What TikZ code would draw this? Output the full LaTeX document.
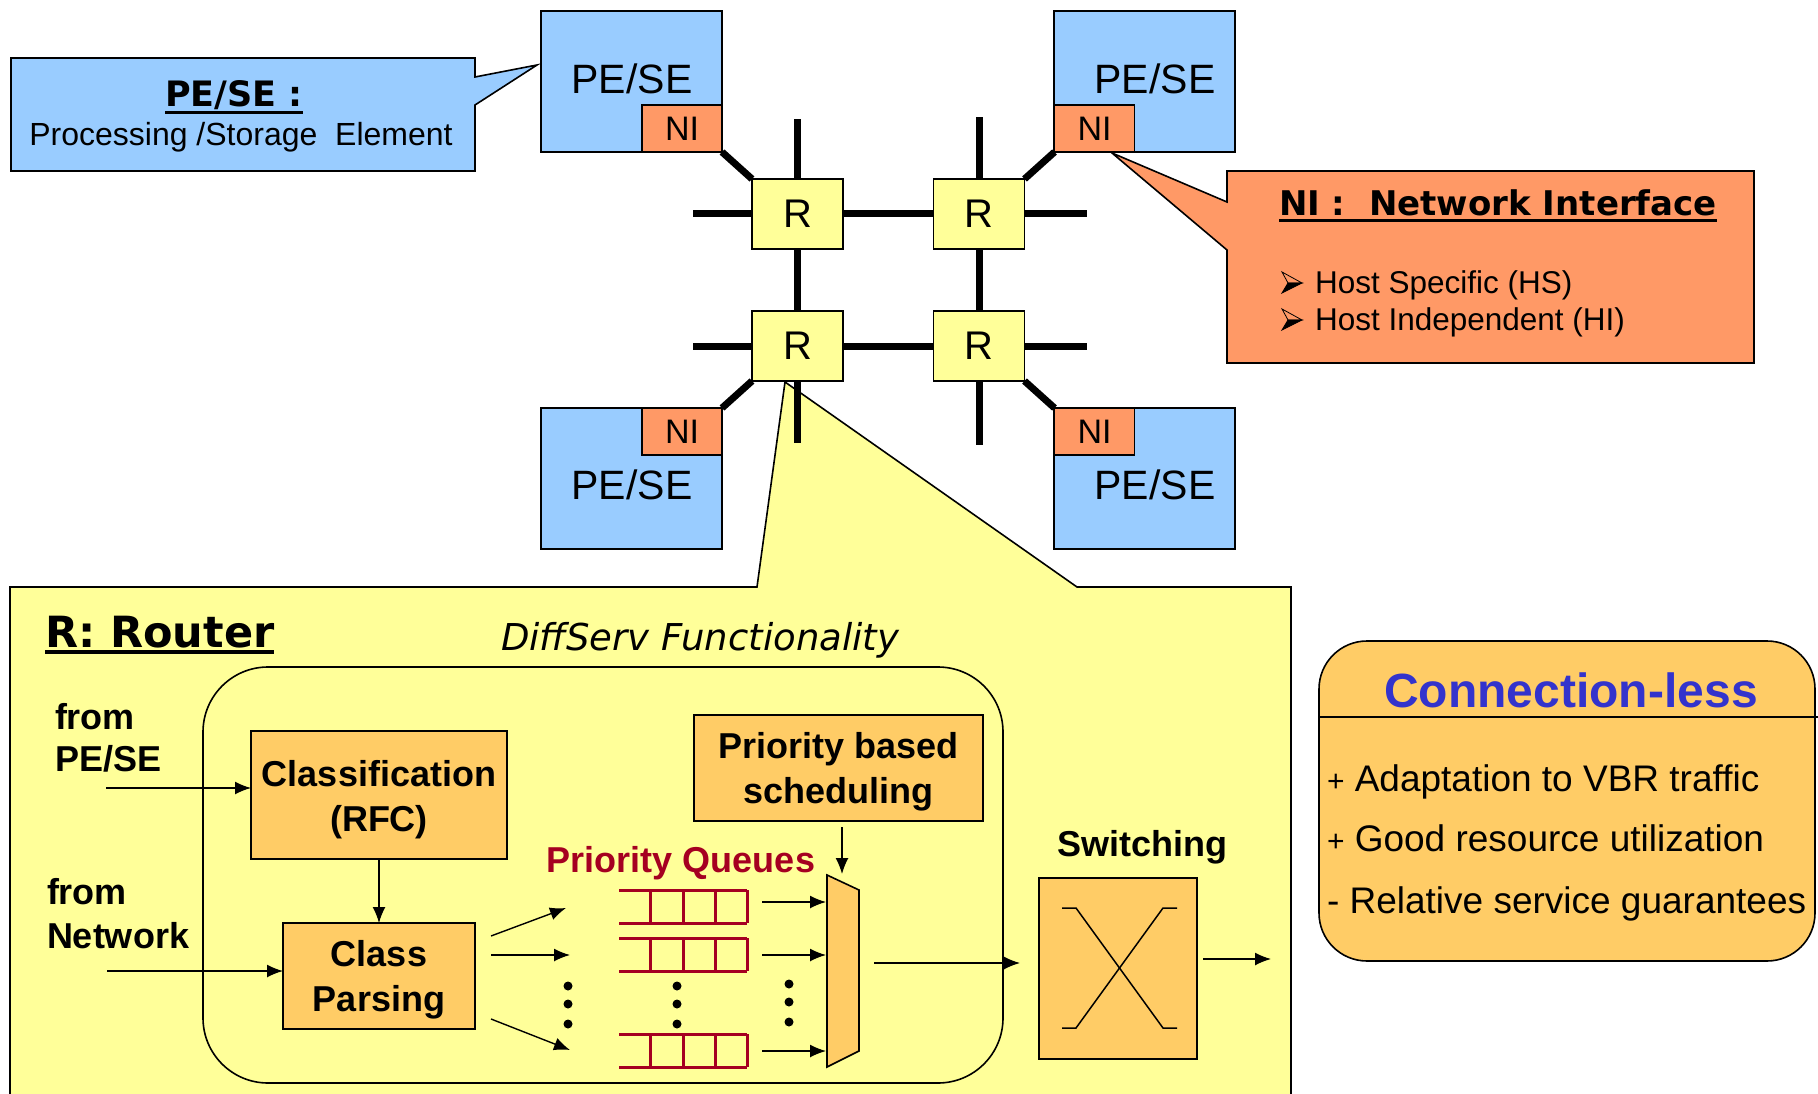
\documentclass[tikz,border=0pt]{standalone}
\usepackage{fontspec}
\setmainfont{Liberation Sans}
\newfontfamily\tahfont{DejaVu Sans}
\usetikzlibrary{arrows.meta,calc,backgrounds}
\definecolor{peblue}{HTML}{99CCFF}
\definecolor{niorange}{HTML}{FF9966}
\definecolor{ryellow}{HTML}{FFFF99}
\definecolor{boxorange}{HTML}{FFCC66}
\definecolor{qred}{HTML}{A50021}
\definecolor{clblue}{HTML}{3333CC}
\newcommand\fsz[2]{\fontsize{#1}{#2}\selectfont}

\begin{document}
\begin{tikzpicture}[x=1pt,y=-1pt,
  every node/.style={inner sep=0pt, outer sep=0pt},
  border/.style={draw=black, line width=1.6pt},
  pebox/.style={border, fill=peblue, minimum width=181pt, minimum height=141pt},
  nibox/.style={border, fill=niorange, minimum width=80pt, minimum height=47pt, font=\fsz{34}{40}},
  rbox/.style={border, fill=ryellow, minimum width=91pt, minimum height=70pt, font=\fsz{40}{48}},
  petext/.style={anchor=base, font=\fsz{41}{48}},
  link/.style={line width=7pt},
  fbox/.style={border, fill=boxorange},
  boxtxt/.style={anchor=base, font=\bfseries\fsz{36}{42}},
  arr/.style={line width=1.4pt, -{Latex[length=16pt,width=13pt]}},
  qline/.style={draw=qred, line width=3pt},
  boldlbl/.style={font=\bfseries\fsz{36}{42}},
  item/.style={anchor=base west, font=\fsz{37}{44}},
  bullet/.style={line width=0.8pt, line join=miter},
]
\useasboundingbox (0,0) rectangle (1818,1094);

% page background and the three callout shapes
\begin{pgfonlayer}{background}
\fill[white] (0,0) rectangle (1818,1094);
\draw[border, fill=peblue] (11,58) -- (475,58) -- (475,77) -- (537,65) -- (475,105) -- (475,171) -- (11,171) -- cycle;
\draw[border, fill=niorange] (1227,171) -- (1754,171) -- (1754,363) -- (1227,363) -- (1227,250) -- (1112,153) -- (1227,202) -- cycle;
\draw[border, fill=ryellow] (10,587) -- (757,587) -- (785,382) -- (1077,587) -- (1291,587) -- (1291,1110) -- (10,1110) -- cycle;
\end{pgfonlayer}

% processing / storage elements
\node[pebox] (pe1) at (631.5,81.5) {};
\node[pebox] (pe2) at (1144.5,81.5) {};
\node[pebox] (pe3) at (631.5,478.5) {};
\node[pebox] (pe4) at (1144.5,478.5) {};
\node[petext] (pe1t) at (632,94) {PE/SE};
\node[petext] (pe2t) at (1155,94) {PE/SE};
\node[petext] (pe3t) at (632,499) {PE/SE};
\node[petext] (pe4t) at (1155,499) {PE/SE};

% network interfaces
\node[nibox] (ni1) at (682,128.5) {NI};
\node[nibox] (ni2) at (1094.5,128.5) {NI};
\node[nibox] (ni3) at (682,431.5) {NI};
\node[nibox] (ni4) at (1094.5,431.5) {NI};

% routers
\node[rbox] (r1) at (797.5,214) {R};
\node[rbox] (r2) at (979,214) {R};
\node[rbox] (r3) at (797.5,346) {R};
\node[rbox] (r4) at (979,346) {R};

% open link ends of the mesh
\coordinate (s1w) at (693,214);
\coordinate (s1n) at (797.5,119);
\coordinate (s2n) at (979,117);
\coordinate (s2e) at (1087,214);
\coordinate (s3w) at (693,346);
\coordinate (s3s) at (797.5,443);
\coordinate (s4e) at (1087,346);
\coordinate (s4s) at (979,445);

\begin{pgfonlayer}{background}
\draw[link] (r1) -- (r2);
\draw[link] (r3) -- (r4);
\draw[link] (r1) -- (r3);
\draw[link] (r2) -- (r4);
\draw[link] (r1.west) -- (s1w);
\draw[link] (r1.north) -- (s1n);
\draw[link] (r2.north) -- (s2n);
\draw[link] (r2.east) -- (s2e);
\draw[link] (r3.west) -- (s3w);
\draw[link] (r3.south) -- (s3s);
\draw[link] (r4.east) -- (s4e);
\draw[link] (r4.south) -- (s4s);
\draw[link] (ni1.south east) -- (r1.north west);
\draw[link] (ni2.south west) -- (r2.north east);
\draw[link] (ni3.north east) -- (r3.south west);
\draw[link] (ni4.north west) -- (r4.south east);
\end{pgfonlayer}

% callout texts
\node[font=\tahfont\bfseries\fsz{35}{42}, anchor=base] (petitle) at (234,107) {PE/SE :};
\draw[line width=3pt] ($(petitle.base west)+(0,6)$) -- ($(petitle.base east)+(0,6)$);
\node[anchor=base, font=\fsz{32}{38}] (pedesc) at (241,146) {Processing /Storage~~Element};

\node[font=\tahfont\bfseries\fsz{34}{40}, anchor=base west] (nititle) at (1279,216) {NI :~~Network Interface};
\draw[line width=3pt] ($(nititle.base west)+(0,5)$) -- ($(nititle.base east)+(0,5)$);
% arrowhead bullets
\foreach \by in {293,330} {
  \draw[bullet, fill=niorange] (1282,\by-21) -- (1302,\by-10) -- (1288,\by-10) -- cycle;
  \draw[bullet, fill=black] (1288,\by-10) -- (1302,\by-10) -- (1282,\by) -- cycle;
}
\node[font=\fsz{31.5}{36}, anchor=base west] (hs) at (1315,293) {Host Specific (HS)};
\node[font=\fsz{31.5}{36}, anchor=base west] (hi) at (1315,330) {Host Independent (HI)};

% router internals
\node[font=\tahfont\bfseries\fsz{43}{50}, anchor=base west] (rtitle) at (45,647) {R: Router};
\draw[line width=4pt] ($(rtitle.base west)+(0,5)$) -- ($(rtitle.base east)+(0,5)$);
\node[font=\tahfont\itshape\fsz{37}{44}, anchor=base west] (diff) at (501,650) {DiffServ Functionality};
\draw[line width=1.6pt, rounded corners=65pt] (203,667) rectangle (1003,1083);

\node[boldlbl, anchor=base west] (from1) at (55,729) {from};
\node[boldlbl, anchor=base west] (from1b) at (55,771) {PE/SE};
\node[boldlbl, anchor=base west] (from2) at (47,904) {from};
\node[boldlbl, anchor=base west] (from2b) at (47,948) {Network};

\node[fbox, minimum width=256pt, minimum height=128pt] (cls) at (379,795) {};
\node[boxtxt] (clsa) at (379,786) {Classification};
\node[boxtxt] (clsb) at (379,831) {(RFC)};
\node[fbox, minimum width=192pt, minimum height=106pt] (cp) at (379,976) {};
\node[boxtxt] (cpa) at (379,966) {Class};
\node[boxtxt] (cpb) at (379,1011) {Parsing};
\node[fbox, minimum width=289pt, minimum height=106pt] (sched) at (838.5,768) {};
\node[boxtxt] (scha) at (838.5,758) {Priority based};
\node[boxtxt] (schb) at (838.5,803) {scheduling};
\node[fbox, minimum width=158pt, minimum height=181pt] (sw) at (1118,968.5) {};
\node[boldlbl, anchor=base] (swl) at (1142,856) {Switching};
\node[boldlbl, text=qred, anchor=base] (pql) at (681,872) {Priority Queues};

% multiplexer in front of the switch
\draw[border, fill=boxorange] (827,875) -- (859,890) -- (859,1051) -- (827,1067) -- cycle;

% crossbar symbol
\draw[line width=1.5pt] (1062,908) -- (1076,908) -- (1163,1028) -- (1177,1028);
\draw[line width=1.5pt] (1177,908) -- (1163,908) -- (1076,1028) -- (1062,1028);

% priority queues
\foreach \t/\b in {890/923, 938/971, 1034/1067} {
  \draw[qline] (619,\t) -- (747,\t) (619,\b) -- (747,\b)
    (650,\t) -- (650,\b) (683,\t) -- (683,\b) (715,\t) -- (715,\b) (747,\t) -- (747,\b);
}

% ellipsis dots
\foreach \x/\ya/\yb/\yc in {568/986/1004/1024, 677/986/1004/1024, 789/984/1002/1022} {
  \fill (\x,\ya) circle (4.5pt) (\x,\yb) circle (4.5pt) (\x,\yc) circle (4.5pt);
}

% arrows
\coordinate (inpe) at (106,788);
\coordinate (innet) at (107,971);
\draw[arr] (inpe) -- (inpe -| cls.west);
\draw[arr] (innet) -- (innet -| cp.west);
\draw[arr] (cls.south) -- (cp.north);
\coordinate (f1a) at (491,936); \coordinate (f1b) at (566,908);
\coordinate (f2a) at (491,955); \coordinate (f2b) at (570,955);
\coordinate (f3a) at (491,1019); \coordinate (f3b) at (570,1050);
\draw[arr] (f1a) -- (f1b);
\draw[arr] (f2a) -- (f2b);
\draw[arr] (f3a) -- (f3b);
\coordinate (q1) at (762,902); \coordinate (m1) at (826,902);
\coordinate (q2) at (762,955); \coordinate (m2) at (826,955);
\coordinate (q3) at (762,1051); \coordinate (m3) at (826,1051);
\draw[arr] (q1) -- (m1);
\draw[arr] (q2) -- (m2);
\draw[arr] (q3) -- (m3);
\coordinate (sa) at (842,827); \coordinate (sb) at (842,874);
\draw[arr] (sa) -- (sb);
\coordinate (mo) at (874,963); \coordinate (swin) at (1020,963);
\draw[arr] (mo) -- (swin);
\coordinate (swo) at (1203,959); \coordinate (out) at (1271,959);
\draw[arr] (swo) -- (out);

% connection-less summary
\node[border, fill=boxorange, rounded corners=48pt, minimum width=496pt, minimum height=320pt] (cl) at (1567,801) {};
\coordinate (clsep) at (1818,717);
\draw[line width=1.6pt] (clsep -| cl.west) -- (clsep);
\node[font=\bfseries\fsz{48}{56}, text=clblue, anchor=base] (cltitle) at (1571,707) {Connection-less};
\node[item] (i1) at (1327,791) {{\fsz{30}{34}+} Adaptation to VBR traffic};
\node[item] (i2) at (1327,851) {{\fsz{30}{34}+} Good resource utilization};
\node[item] (i3) at (1327,913) {- Relative service guarantees};
\end{tikzpicture}
\end{document}
